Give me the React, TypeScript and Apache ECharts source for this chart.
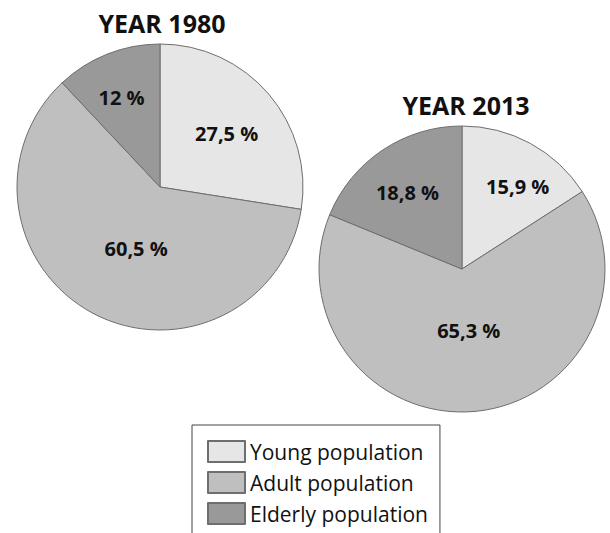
import React, { useEffect, useRef } from "react";
import * as echarts from "echarts";

const categories = ["Young population", "Adult population", "Elderly population"];
const values1980 = [27.5, 60.5, 12];
const values2013 = [15.9, 65.3, 18.8];
const titles = ["YEAR 1980", "YEAR 2013"];
const colors = ["#e6e6e6", "#bfbfbf", "#999999"];
const offsets1980 = [[10, -5], [11, -4], [-11, -20]];
const offsets2013 = [[20, -17], [0, -13], [-13, -15]];

const FONT = "'Open Sans', 'Noto Sans', sans-serif";

function makeSeries(values: number[], offsets: number[][], center: number[]) {
  return {
    type: "pie",
    center,
    radius: 143,
    startAngle: 90,
    clockwise: true,
    avoidLabelOverlap: false,
    silent: true,
    itemStyle: { borderColor: "#6e6e6e", borderWidth: 1 },
    label: {
      show: true,
      position: "inside",
      fontFamily: FONT,
      fontWeight: "bold",
      fontSize: 20,
      color: "#111",
      formatter: (p: any) => `${String(p.value).replace(".", ",")} %`,
    },
    labelLine: { show: false },
    data: categories.map((name, i) => ({
      name,
      value: values[i],
      itemStyle: { color: colors[i] },
      label: { offset: offsets[i] },
    })),
  };
}

export default function App() {
  const ref = useRef<HTMLDivElement>(null);
  useEffect(() => {
    if (!ref.current) return;
    const chart = echarts.init(ref.current, undefined, { renderer: "svg" });
    chart.setOption({
      animation: false,
      backgroundColor: "#ffffff",
      legend: {
        orient: "vertical",
        left: 192,
        top: 425,
        height: 200,
        padding: [15, 12, 15, 15],
        itemWidth: 37,
        itemHeight: 21,
        itemGap: 8,
        icon: "rect",
        borderColor: "#444",
        borderWidth: 1,
        selectedMode: false,
        data: categories,
        textStyle: { fontFamily: FONT, fontSize: 21, color: "#111" },
      },
      graphic: [
        {
          type: "text",
          x: 162,
          y: 23,
          style: {
            text: titles[0],
            font: `bold 25px ${FONT}`,
            fill: "#111",
            textAlign: "center",
            textVerticalAlign: "middle",
          },
        },
        {
          type: "text",
          x: 466,
          y: 105,
          style: {
            text: titles[1],
            font: `bold 25px ${FONT}`,
            fill: "#111",
            textAlign: "center",
            textVerticalAlign: "middle",
          },
        },
      ],
      series: [
        makeSeries(values1980, offsets1980, [160, 187]),
        makeSeries(values2013, offsets2013, [462, 269]),
      ],
    });
    return () => chart.dispose();
  }, []);
  return (
    <div
      ref={ref}
      style={{ position: "fixed", left: 0, top: 0, width: 610, height: 533 }}
    />
  );
}
